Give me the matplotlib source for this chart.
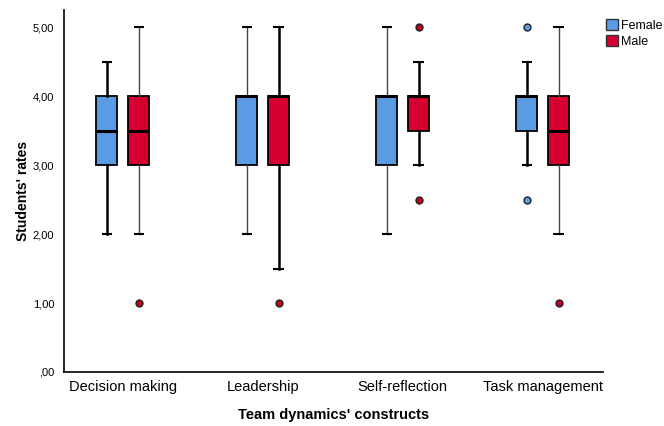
import numpy as np
import matplotlib.pyplot as plt
from matplotlib.ticker import FuncFormatter
from matplotlib.patches import Patch

plt.rcParams['font.family'] = ['Liberation Sans', 'DejaVu Sans']

categories = ['Decision making', 'Leadership', 'Self-reflection', 'Task management']
groups = ['Female', 'Male']

# box stats
fem_whislo = [2.0, 2.0, 2.0, 3.0]
fem_q1 = [3.0, 3.0, 3.0, 3.5]
fem_med = [3.5, 4.0, 4.0, 4.0]
fem_q3 = [4.0, 4.0, 4.0, 4.0]
fem_whishi = [4.5, 5.0, 5.0, 4.5]
fem_fliers = [[], [], [], [5.0, 2.5]]

male_whislo = [2.0, 1.5, 3.0, 2.0]
male_q1 = [3.0, 3.0, 3.5, 3.0]
male_med = [3.5, 4.0, 4.0, 3.5]
male_q3 = [4.0, 4.0, 4.0, 4.0]
male_whishi = [5.0, 5.0, 4.5, 5.0]
male_fliers = [[1.0], [1.0], [5.0, 2.5], [1.0]]

colors = ['#5a9be3', '#d5002f']
thin_whiskers = [(0, 'Male'), (1, 'Female'), (2, 'Female'), (3, 'Male')]

fig = plt.figure(figsize=(6.64, 4.26), dpi=100)
ax = fig.add_axes([0.0964, 0.1268, 0.8116, 0.8497])

x = np.arange(len(categories))
offset = 0.114
width = 0.15

series = {
    'Female': (fem_whislo, fem_q1, fem_med, fem_q3, fem_whishi, fem_fliers),
    'Male': (male_whislo, male_q1, male_med, male_q3, male_whishi, male_fliers),
}

for gi, g in enumerate(groups):
    lo, q1, med, q3, hi, fl = series[g]
    pos = x + (offset if gi == 1 else -offset)
    for i in range(len(categories)):
        st = [dict(whislo=lo[i], q1=q1[i], med=med[i], q3=q3[i], whishi=hi[i], fliers=fl[i])]
        thin = (i, g) in thin_whiskers
        ax.bxp(st, positions=[pos[i]], widths=width, patch_artist=True,
               showfliers=True, manage_ticks=False,
               boxprops=dict(facecolor=colors[gi], edgecolor='black', linewidth=1.3),
               medianprops=dict(color='black', linewidth=2.2),
               whiskerprops=dict(color='#444444' if thin else 'black', linewidth=1.0 if thin else 1.8),
               capprops=dict(color='black', linewidth=1.5, solid_capstyle='butt'),
               capwidths=0.075,
               flierprops=dict(marker='o', markerfacecolor=colors[gi] if gi == 0 else '#c0001a',
                               markeredgecolor='#222222', markersize=5, markeredgewidth=1.0))

ax.set_xlim(-0.42, 3.43)
ax.set_ylim(0, 5.25)
ax.set_xticks(x)
ax.set_xticklabels(categories, fontsize=10.5)
ax.set_yticks([0, 1, 2, 3, 4, 5])
ax.yaxis.set_major_formatter(FuncFormatter(lambda v, p: ',00' if v == 0 else f'{v:.2f}'.replace('.', ',')))
ax.tick_params(axis='y', labelsize=8, length=0, pad=7)
ax.tick_params(axis='x', length=0, pad=6)
for s in ['top', 'right']:
    ax.spines[s].set_visible(False)
for s in ['left', 'bottom']:
    ax.spines[s].set_linewidth(1.2)
ax.set_xlabel("Team dynamics' constructs", fontsize=10.5, fontweight='bold', labelpad=10)
ax.set_ylabel("Students' rates", fontsize=10, fontweight='bold', labelpad=2)

handles = [Patch(facecolor=colors[i], edgecolor='#333333', label=groups[i]) for i in range(2)]
fig.legend(handles=handles, loc='upper left', bbox_to_anchor=(0.912, 0.955), frameon=False,
           fontsize=9, handlelength=1.0, handleheight=1.0, handletextpad=0.2, labelspacing=0.25,
           borderaxespad=0, borderpad=0)

plt.savefig('out.png', dpi=100)
